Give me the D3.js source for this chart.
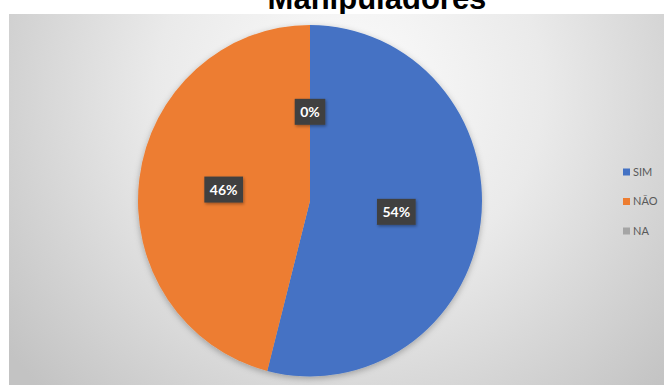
<!DOCTYPE html>
<html>
<head>
<meta charset="utf-8">
<script src="https://cdn.jsdelivr.net/npm/d3@7"></script>
<style>
  html, body { margin: 0; padding: 0; background: #ffffff; }
  svg { display: block; }
</style>
</head>
<body>
<svg id="chart" width="668" height="385"></svg>
<script>
// Chart data
const title = "Manipuladores";
const categories = ["SIM", "NÃO", "NA"];
const values = [54, 46, 0];
const valueLabels = ["54%", "46%", "0%"];
const colors = ["#4472C4", "#ED7D31", "#A5A5A5"];

const svg = d3.select("#chart");
const W = 668, H = 385;

const defs = svg.append("defs");

// Soft radial shading behind the plot
const bg = defs.append("radialGradient")
  .attr("id", "bgGrad")
  .attr("gradientUnits", "userSpaceOnUse")
  .attr("cx", 350).attr("cy", 90).attr("r", 430);
bg.append("stop").attr("offset", 0).attr("stop-color", "#fcfcfc");
bg.append("stop").attr("offset", 0.45).attr("stop-color", "#eaeaea");
bg.append("stop").attr("offset", 1).attr("stop-color", "#c3c3c3");

// Shadow under the pie and label boxes
const sh = defs.append("filter").attr("id", "pieShadow")
  .attr("x", "-20%").attr("y", "-20%").attr("width", "140%").attr("height", "140%");
sh.append("feDropShadow").attr("dx", 0).attr("dy", 2).attr("stdDeviation", 3)
  .attr("flood-color", "#000").attr("flood-opacity", 0.28);

const bs = defs.append("filter").attr("id", "boxShadow")
  .attr("x", "-30%").attr("y", "-30%").attr("width", "160%").attr("height", "160%");
bs.append("feDropShadow").attr("dx", 1).attr("dy", 1.5).attr("stdDeviation", 1.5)
  .attr("flood-color", "#000").attr("flood-opacity", 0.35);

// Title (partly hidden by the plot panel below it)
svg.append("text")
  .attr("x", 377).attr("y", 9)
  .attr("text-anchor", "middle")
  .attr("font-family", "'Liberation Sans', Arial, sans-serif")
  .attr("font-weight", "bold")
  .attr("font-size", 31)
  .attr("fill", "#000")
  .text(title);

// Plot panel
svg.append("rect")
  .attr("x", 9).attr("y", 14)
  .attr("width", 655).attr("height", H - 14)
  .attr("fill", "url(#bgGrad)");

// Pie geometry
const cx = 310, cy = 200.7;
const rx = 172, ry = 175.7;
const sy = ry / rx;

const pie = d3.pie().sort(null).value(d => d);
const arcs = pie(values);
const arc = d3.arc().innerRadius(0).outerRadius(rx);
const labelArc = d3.arc().innerRadius(87).outerRadius(87);

const g = svg.append("g")
  .attr("transform", `translate(${cx},${cy})`);

g.append("g")
  .attr("transform", `scale(1,${sy})`)
  .attr("filter", "url(#pieShadow)")
  .selectAll("path")
  .data(arcs)
  .join("path")
  .attr("d", arc)
  .attr("fill", (d, i) => colors[i]);

// Value labels in dark boxes
const lab = g.selectAll("g.lbl")
  .data(arcs)
  .join("g")
  .attr("class", "lbl")
  .attr("transform", d => {
    const [x, y] = labelArc.centroid(d);
    return `translate(${x},${y * sy})`;
  });

lab.each(function(d, i) {
  const sel = d3.select(this);
  const t = sel.append("text")
    .attr("text-anchor", "middle")
    .attr("dy", "0.36em")
    .attr("font-family", "Lato, 'Open Sans', sans-serif")
    .attr("font-weight", "bold")
    .attr("font-size", 14)
    .attr("fill", "#ffffff")
    .text(valueLabels[i]);
  const w = t.node().getComputedTextLength() + 11;
  sel.insert("rect", "text")
    .attr("x", -w / 2).attr("y", -13)
    .attr("width", w).attr("height", 26)
    .attr("fill", "#404040")
    .attr("filter", "url(#boxShadow)");
});

// Legend
const legend = svg.append("g")
  .selectAll("g")
  .data(categories)
  .join("g")
  .attr("transform", (d, i) => `translate(623,${172 + i * 29.5})`);

legend.append("rect")
  .attr("x", 0).attr("y", -3.5)
  .attr("width", 7).attr("height", 7)
  .attr("fill", (d, i) => colors[i]);

legend.append("text")
  .attr("x", 10).attr("y", 0)
  .attr("dy", "0.35em")
  .attr("font-family", "Lato, 'Open Sans', sans-serif")
  .attr("font-size", 11)
  .attr("fill", "#595959")
  .text(d => d);
</script>
</body>
</html>
